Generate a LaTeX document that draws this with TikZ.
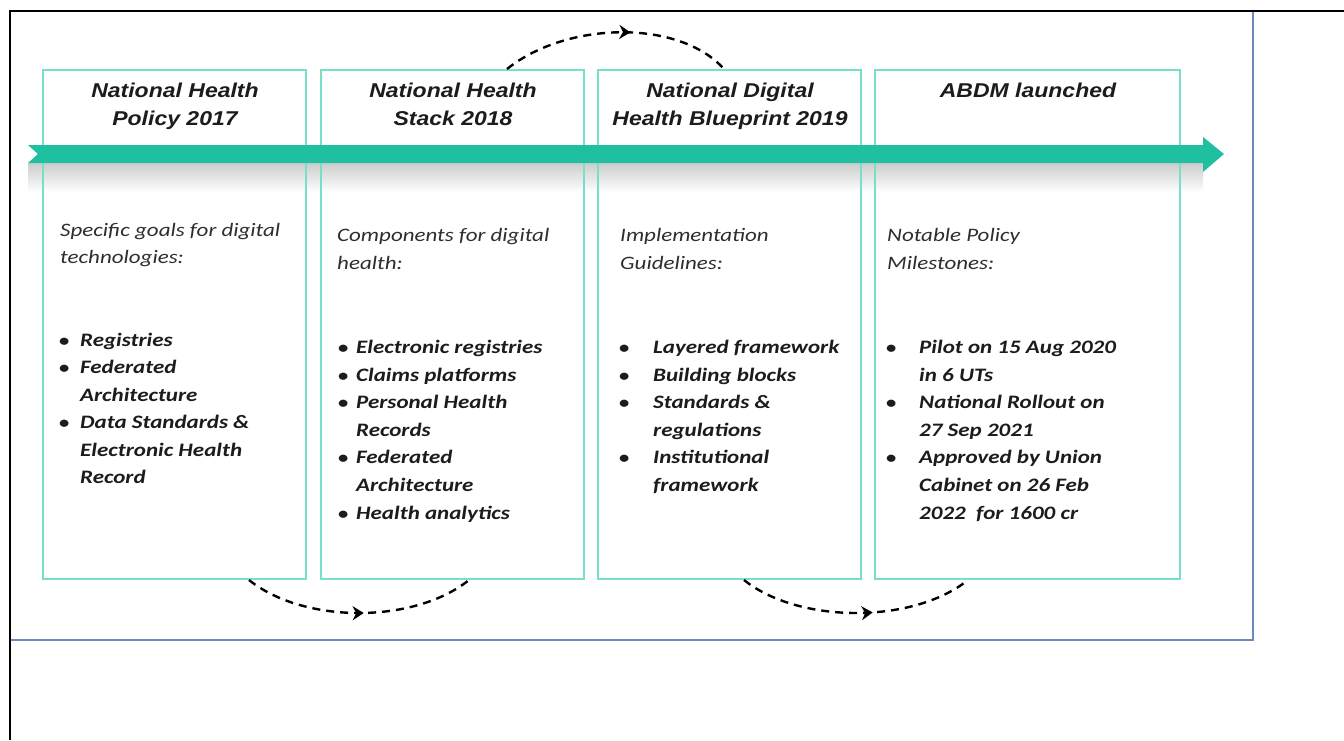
\documentclass[tikz,border=0pt]{standalone}
\usepackage{fontspec}
\setmainfont[FakeStretch=1.21]{Carlito}
\newfontfamily\titlefont[FakeStretch=1.15]{Liberation Sans}
\usetikzlibrary{calc,arrows.meta,decorations.markings}
\definecolor{tealarrow}{RGB}{30,192,160}
\definecolor{boxline}{RGB}{120,224,202}
\definecolor{framebl}{RGB}{105,140,185}
\definecolor{txt}{RGB}{28,28,28}
\tikzset{
  stagebox/.style={draw=boxline, line width=2pt, inner sep=0pt, minimum height=509pt},
  ttl/.style={font=\titlefont\fontsize{20}{24}\selectfont\bfseries\itshape, anchor=base, inner sep=0pt, text=txt},
  bodytxt/.style={font=\fontsize{19}{23}\selectfont\itshape, anchor=base west, inner sep=0pt, text=txt!92},
  bultxt/.style={font=\fontsize{19}{23}\selectfont\bfseries\itshape, anchor=base west, inner sep=0pt, text=txt},
  bulmark/.style={font=\fontsize{17}{20}\selectfont\bfseries, anchor=base west, inner sep=0pt, text=txt},
  flowarc/.style={line width=2.4pt, dash pattern=on 8pt off 6pt,
    postaction={decorate, decoration={markings, mark=at position #1 with {\arrow[solid]{Stealth[length=11pt,width=14pt]}}}}},
  flowarc/.default=0.5
}
\begin{document}
\begin{tikzpicture}[x=1pt,y=-1pt]
\useasboundingbox (0,0) rectangle (1344,740);
\fill[white] (0,0) rectangle (1344,740);

% shadow beneath the timeline arrow
\shade[top color=black!28, bottom color=white, opacity=0.7] (28,163) rectangle (1203,192);

% stage boxes
\node[stagebox, minimum width=263pt] (b1) at (174.5,324.5) {};
\node[stagebox, minimum width=263pt] (b2) at (452.5,324.5) {};
\node[stagebox, minimum width=263pt] (b3) at (729.5,324.5) {};
\node[stagebox, minimum width=305pt] (b4) at (1027.5,324.5) {};

% timeline arrow
\fill[tealarrow] (28,145) -- (1203,145) -- (1203,137) -- (1224,154) -- (1203,172) -- (1203,163) -- (28,163) -- (38,154) -- cycle;

% titles
\node[ttl] (t1a) at (175,97) {National Health};
\node[ttl] (t1b) at (175,125) {Policy 2017};
\node[ttl] (t2a) at (453,97) {National Health};
\node[ttl] (t2b) at (453,125) {Stack 2018};
\node[ttl] (t3a) at (730,97) {National Digital};
\node[ttl] (t3b) at (730,125) {Health Blueprint 2019};
\node[ttl] (t4a) at (1028,97) {ABDM launched};

% box 1 body
\node[bodytxt] (p1a) at (60,236) {Specific goals for digital};
\node[bodytxt] (p1b) at (60,263) {technologies:};
\node[bulmark] (m1a) at (59,346) {•};
\node[bultxt] (q1a) at (80,346) {Registries};
\node[bulmark] (m1b) at (59,373) {•};
\node[bultxt] (q1b) at (80,373) {Federated};
\node[bultxt] (q1c) at (80,401) {Architecture};
\node[bulmark] (m1c) at (59,428) {•};
\node[bultxt] (q1d) at (80,428) {Data Standards \&};
\node[bultxt] (q1e) at (80,456) {Electronic Health};
\node[bultxt] (q1f) at (80,483) {Record};

% box 2 body
\node[bodytxt] (p2a) at (337,241) {Components for digital};
\node[bodytxt] (p2b) at (337,269) {health:};
\node[bulmark] (m2a) at (338,353) {•};
\node[bultxt] (q2a) at (356,353) {Electronic registries};
\node[bulmark] (m2b) at (338,381) {•};
\node[bultxt] (q2b) at (356,381) {Claims platforms};
\node[bulmark] (m2c) at (338,408) {•};
\node[bultxt] (q2c) at (356,408) {Personal Health};
\node[bultxt] (q2d) at (356,436) {Records};
\node[bulmark] (m2d) at (338,463) {•};
\node[bultxt] (q2e) at (356,463) {Federated};
\node[bultxt] (q2f) at (356,491) {Architecture};
\node[bulmark] (m2e) at (338,519) {•};
\node[bultxt] (q2g) at (356,519) {Health analytics};

% box 3 body
\node[bodytxt] (p3a) at (620,241) {Implementation};
\node[bodytxt] (p3b) at (620,269) {Guidelines:};
\node[bulmark] (m3a) at (619,353) {•};
\node[bultxt] (q3a) at (653,353) {Layered framework};
\node[bulmark] (m3b) at (619,381) {•};
\node[bultxt] (q3b) at (653,381) {Building blocks};
\node[bulmark] (m3c) at (619,408) {•};
\node[bultxt] (q3c) at (653,408) {Standards \&};
\node[bultxt] (q3d) at (653,436) {regulations};
\node[bulmark] (m3d) at (619,463) {•};
\node[bultxt] (q3e) at (653,463) {Institutional};
\node[bultxt] (q3f) at (653,491) {framework};

% box 4 body
\node[bodytxt] (p4a) at (887,241) {Notable Policy};
\node[bodytxt] (p4b) at (887,269) {Milestones:};
\node[bulmark] (m4a) at (886,353) {•};
\node[bultxt] (q4a) at (919,353) {Pilot on 15 Aug 2020};
\node[bultxt] (q4b) at (919,381) {in 6 UTs};
\node[bulmark] (m4b) at (886,408) {•};
\node[bultxt] (q4c) at (919,408) {National Rollout on};
\node[bultxt] (q4d) at (919,436) {27 Sep 2021};
\node[bulmark] (m4c) at (886,463) {•};
\node[bultxt] (q4e) at (919,463) {Approved by Union};
\node[bultxt] (q4f) at (919,491) {Cabinet on 26 Feb};
\node[bultxt] (q4g) at (919,519) {2022\ \ for 1600 cr};

% dashed flow arcs between boxes
\coordinate (a1s) at ($(b1.south west)+(207,0)$);
\coordinate (a1e) at ($(b2.south west)+(149,0)$);
\coordinate (a2s) at ($(b2.north west)+(187,0)$);
\coordinate (a2e) at ($(b3.north west)+(127,0)$);
\coordinate (a3s) at ($(b3.south west)+(147,0)$);
\coordinate (a3e) at ($(b4.south west)+(94,0)$);
\draw[flowarc=0.52] (a1s) .. controls ($(a1s)+(55,44)$) and ($(a1e)+(-55,44)$) .. (a1e);
\draw[flowarc=0.56] (a2s) .. controls ($(a2s)+(60,-48)$) and ($(a2e)+(-45,-50)$) .. (a2e);
\draw[flowarc=0.57] (a3s) .. controls ($(a3s)+(55,44)$) and ($(a3e)+(-55,44)$) .. (a3e);

% picture frame and outer border
\draw[framebl, line width=2pt] (10,640) -- (1253,640) -- (1253,11);
\draw[black, line width=2.6pt] (10,740) -- (10,11) -- (1344,11);
\end{tikzpicture}
\end{document}
